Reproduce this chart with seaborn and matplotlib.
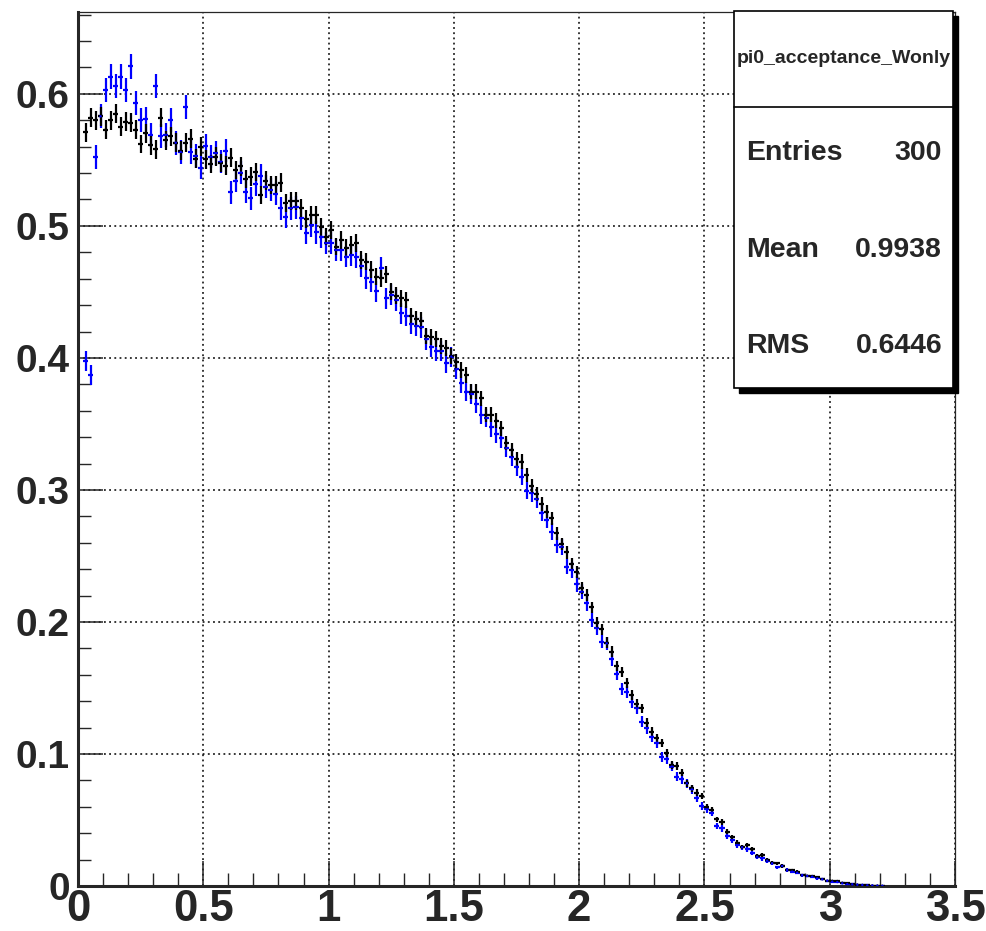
import numpy as np
import pandas as pd
import seaborn as sns
import matplotlib
matplotlib.use("Agg")
import matplotlib.pyplot as plt
from matplotlib.patches import Rectangle
from matplotlib.ticker import MultipleLocator, FuncFormatter

sns.set_style("ticks")
plt.rcParams['font.family'] = ['Liberation Sans', 'DejaVu Sans']

# histogram binning (bin centres start at 0.03, width 0.02)
first_centre = 0.03
bin_width = 0.02

# black histogram
black_vals = [
    0.571, 0.582, 0.580, 0.583, 0.573, 0.580, 0.585, 0.575, 0.579, 0.578,
    0.573, 0.562, 0.570, 0.561, 0.558, 0.582, 0.565, 0.568, 0.563, 0.557,
    0.563, 0.566, 0.551, 0.560,
    0.5505, 0.547, 0.5525, 0.5475, 0.5457, 0.5518, 0.5424, 0.545, 0.5354, 0.5374,
    0.5407, 0.5235, 0.5343, 0.5308, 0.531, 0.5328, 0.5177, 0.519, 0.5192, 0.5139,
    0.5053, 0.5083, 0.5083, 0.499, 0.4919,
    0.497, 0.4843, 0.4894, 0.4831, 0.4856, 0.4869, 0.4742, 0.473, 0.4667, 0.4616,
    0.4604, 0.4634, 0.4503, 0.447, 0.4452, 0.4439, 0.4318, 0.4293, 0.4283, 0.4167,
    0.4157, 0.4146, 0.4091, 0.4073, 0.4015,
    0.3972, 0.3909, 0.3871, 0.3745, 0.3745, 0.3694, 0.3568, 0.3568, 0.3525, 0.3467,
    0.3354, 0.3303, 0.3232, 0.3215, 0.3114, 0.303, 0.297, 0.2894, 0.2836, 0.2785,
    0.2672, 0.2591, 0.2528, 0.2439, 0.2381, 0.2255,
    0.2205, 0.2111, 0.1995, 0.1944, 0.1843, 0.1775, 0.1667, 0.1619, 0.1535, 0.1447,
    0.1379, 0.1346, 0.1237, 0.1169, 0.1119, 0.1086, 0.101, 0.0917, 0.0909, 0.0859,
    0.0778, 0.074, 0.0707, 0.0682, 0.0601, 0.0576,
    0.0505, 0.0487, 0.0412, 0.0369, 0.0328, 0.0298, 0.0311, 0.0278, 0.0227, 0.0235,
    0.0197, 0.0177, 0.0172, 0.0152, 0.0121, 0.0121, 0.0109, 0.0083, 0.0078, 0.0076,
    0.0066, 0.0053, 0.004, 0.004, 0.0038, 0.0025, 0.002, 0.0013, 0.0011, 0.0008,
    0.0006, 0.0004, 0.0003, 0.0001,
]

# blue histogram
blue_vals = [
    0.398, 0.387, 0.552, 0.583, 0.603, 0.613, 0.606, 0.613, 0.603, 0.621,
    0.593, 0.580, 0.581, 0.569, 0.606, 0.568, 0.569, 0.580, 0.563, 0.556,
    0.590, 0.556, 0.553, 0.544,
    0.5606, 0.5525, 0.5551, 0.5487, 0.5571, 0.5253, 0.5341, 0.5404, 0.526, 0.521,
    0.5316, 0.5379, 0.5298, 0.5273, 0.5242, 0.5134, 0.507, 0.5134, 0.5141, 0.5058,
    0.4945, 0.5003, 0.495, 0.4919, 0.4869,
    0.4869, 0.4818, 0.4818, 0.4768, 0.478, 0.4763, 0.4697, 0.4604, 0.4578, 0.4505,
    0.468, 0.4452, 0.4478, 0.4439, 0.4338, 0.4318, 0.4258, 0.4242, 0.4232, 0.4141,
    0.4086, 0.4056, 0.405, 0.396, 0.401,
    0.3914, 0.3808, 0.3745, 0.3727, 0.3652, 0.3568, 0.3545, 0.3475, 0.3424, 0.3391,
    0.3316, 0.3247, 0.3177, 0.3101, 0.2995, 0.2975, 0.293, 0.2828, 0.2773, 0.2684,
    0.2583, 0.2571, 0.2419, 0.2394, 0.2288, 0.223,
    0.2141, 0.2015, 0.1952, 0.1851, 0.1838, 0.172, 0.1606, 0.149, 0.1472, 0.1396,
    0.1346, 0.1245, 0.1194, 0.1131, 0.1086, 0.098, 0.096, 0.0905, 0.0828, 0.0808,
    0.0778, 0.0732, 0.0664, 0.0606, 0.0581, 0.0556,
    0.0455, 0.0437, 0.0379, 0.0348, 0.0311, 0.0293, 0.0278, 0.0253, 0.0222, 0.021,
    0.0192, 0.0172, 0.0141, 0.0152, 0.0121, 0.0109, 0.0101, 0.0083, 0.0076, 0.0071,
    0.0058, 0.0051, 0.004, 0.0033, 0.003, 0.002, 0.0015, 0.0013, 0.001, 0.0008,
    0.0005, 0.0004, 0.0002, 0.0001,
]

# relative stat. error size per series (error ~ scale*sqrt(content))
err_scale_black = 0.0095
err_scale_blue = 0.012

stats_title = "pi0_acceptance_Wonly"
stats_rows = [("Entries", "300"), ("Mean", "0.9938"), ("RMS", "0.6446")]

x_ticks = [0, 0.5, 1, 1.5, 2, 2.5, 3, 3.5]
y_ticks = [0, 0.1, 0.2, 0.3, 0.4, 0.5, 0.6]

centres = first_centre + bin_width * np.arange(len(black_vals))
df = pd.DataFrame({
    'x': np.concatenate([centres, centres]),
    'val': black_vals + blue_vals,
    'series': ['black'] * len(black_vals) + ['blue'] * len(blue_vals),
})

fig = plt.figure(figsize=(9.86, 9.31), dpi=100)
ax = fig.add_axes([0.0791, 0.0483, 0.8895, 0.9388])

for name, col, scale in [('blue', '#0000ff', err_scale_blue),
                         ('black', '#000000', err_scale_black)]:
    d = df[df['series'] == name]
    ax.errorbar(d['x'], d['val'], xerr=bin_width / 2,
                yerr=scale * np.sqrt(d['val']),
                fmt='none', ecolor=col, elinewidth=1.6, capsize=0, zorder=3)

sns.scatterplot(data=df, x='x', y='val', hue='series',
                palette={'black': '#000000', 'blue': '#0000ff'},
                hue_order=['blue', 'black'], s=3, linewidth=0,
                legend=False, ax=ax, zorder=4)

ax.set_xlim(0, 3.5)
ax.set_ylim(0, 0.662)
ax.set_xlabel('')
ax.set_ylabel('')
ax.set_xticks(x_ticks)
ax.set_yticks(y_ticks)
ax.xaxis.set_minor_locator(MultipleLocator(0.1))
ax.yaxis.set_minor_locator(MultipleLocator(0.02))
fmt = FuncFormatter(lambda v, p: ('%g' % round(v, 2)))
ax.xaxis.set_major_formatter(fmt)
ax.yaxis.set_major_formatter(fmt)

ax.grid(True, which='major', color='black', linewidth=1.1,
        linestyle=(0, (1.2, 2.2)))
ax.tick_params(axis='both', which='major', direction='in', length=18, width=1.1,
               top=False, right=False)
ax.tick_params(axis='both', which='minor', direction='in', length=9.5, width=1.0,
               top=False, right=False)
ax.tick_params(axis='y', which='major', labelsize=28, pad=6)
ax.tick_params(axis='x', which='major', labelsize=31.5, pad=2)
for lab in ax.get_xticklabels() + ax.get_yticklabels():
    lab.set_fontweight('bold')

for side in ['left', 'bottom']:
    ax.spines[side].set_linewidth(2.2)
for side in ['top', 'right']:
    ax.spines[side].set_linewidth(0.9)
    ax.spines[side].set_visible(True)

# stats box with drop shadow (figure coordinates)
bx0, bx1 = 0.7444, 0.9665
by0, by1 = 0.5833, 0.9882
sdx, sdy = 5 / 986, 5 / 931
fig.add_artist(Rectangle((bx0 + sdx, by0 - sdy), bx1 - bx0, by1 - by0,
                         transform=fig.transFigure, facecolor='black',
                         edgecolor='black', zorder=10))
fig.add_artist(Rectangle((bx0, by0), bx1 - bx0, by1 - by0,
                         transform=fig.transFigure, facecolor='white',
                         edgecolor='black', linewidth=1.2, zorder=11))
fig.add_artist(plt.Line2D([bx0, bx1], [0.8851, 0.8851], transform=fig.transFigure,
                          color='black', linewidth=1.2, zorder=12))
fig.text((bx0 + bx1) / 2, 0.9377, stats_title, ha='center', va='center',
         fontsize=14, fontweight='bold', zorder=13)
for (lab, val), yy in zip(stats_rows, [0.8357, 0.7315, 0.6284]):
    fig.text(0.7566, yy, lab, ha='left', va='center', fontsize=20.5,
             fontweight='bold', zorder=13)
    fig.text(0.9554, yy, val, ha='right', va='center', fontsize=20.5,
             fontweight='bold', zorder=13)

fig.savefig('out.png', dpi=100)
